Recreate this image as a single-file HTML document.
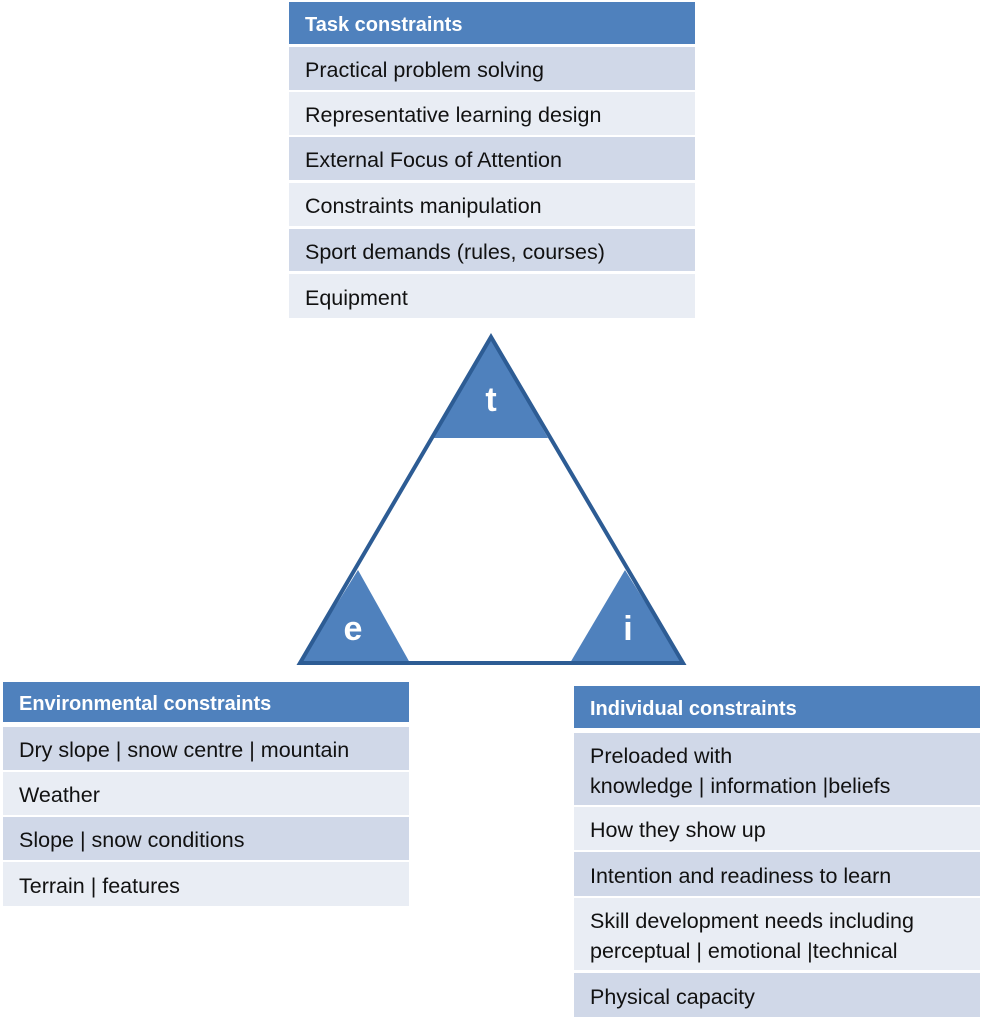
<!DOCTYPE html>
<html><head><style>
body{margin:0;width:987px;height:1024px;background:#fff;position:relative;font-family:"Liberation Sans",sans-serif;overflow:hidden}
.t{position:absolute;width:406px}
.r{position:absolute;left:0;width:100%;box-sizing:border-box;padding-left:16px;padding-top:3px;font-size:21.5px;color:#111;display:flex;align-items:center;line-height:30px;white-space:nowrap}
.h{background:#4F81BD;color:#fff;font-weight:bold;font-size:20px}
.a{background:#D0D8E8}.b{background:#E9EDF4}
</style></head><body>
<div class="t" style="left:289px;top:0">
<div class="r h" style="top:2px;height:42px">Task constraints</div>
<div class="r a" style="top:47px;height:43px">Practical problem solving</div>
<div class="r b" style="top:92px;height:43px">Representative learning design</div>
<div class="r a" style="top:137px;height:43px">External Focus of Attention</div>
<div class="r b" style="top:183px;height:43px">Constraints manipulation</div>
<div class="r a" style="top:229px;height:42px">Sport demands (rules, courses)</div>
<div class="r b" style="top:274px;height:44px">Equipment</div>
</div>
<svg style="position:absolute;left:0;top:0" width="987" height="1024">
<polygon points="491,337 433,438 548,438" fill="#4F81BD"/>
<polygon points="300,663 358,570 410,663" fill="#4F81BD"/>
<polygon points="683,663 625,570 570,663" fill="#4F81BD"/>
<polygon points="300,663 491,337 683,663" fill="none" stroke="#2D5C94" stroke-width="4" stroke-linejoin="miter"/>
<text x="491" y="411" text-anchor="middle" font-family="Liberation Sans" font-weight="bold" font-size="34" fill="#fff">t</text>
<text x="353" y="640" text-anchor="middle" font-family="Liberation Sans" font-weight="bold" font-size="34" fill="#fff">e</text>
<text x="628" y="640" text-anchor="middle" font-family="Liberation Sans" font-weight="bold" font-size="34" fill="#fff">i</text>
</svg>
<div class="t" style="left:3px;top:0;width:406px">
<div class="r h" style="top:682px;height:40px">Environmental constraints</div>
<div class="r a" style="top:727px;height:43px">Dry slope | snow centre | mountain</div>
<div class="r b" style="top:772px;height:43px">Weather</div>
<div class="r a" style="top:817px;height:43px">Slope | snow conditions</div>
<div class="r b" style="top:862px;height:44px">Terrain | features</div>
</div>
<div class="t" style="left:574px;top:0">
<div class="r h" style="top:686px;height:42px">Individual constraints</div>
<div class="r a" style="top:733px;height:72px">Preloaded with<br>knowledge | information |beliefs</div>
<div class="r b" style="top:807px;height:43px">How they show up</div>
<div class="r a" style="top:852px;height:44px">Intention and readiness to learn</div>
<div class="r b" style="top:898px;height:72px">Skill development needs including<br>perceptual | emotional |technical</div>
<div class="r a" style="top:973px;height:44px">Physical capacity</div>
</div>
</body></html>
